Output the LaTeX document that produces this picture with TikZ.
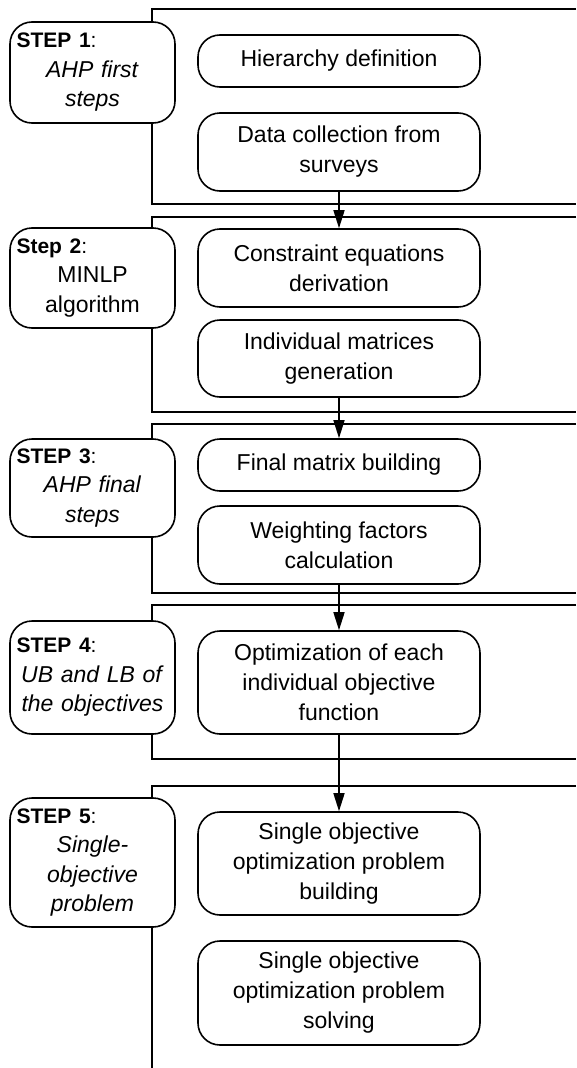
\documentclass[tikz,border=0pt]{standalone}
\usepackage{fontspec}
\setmainfont{Liberation Sans}
\usetikzlibrary{arrows.meta}
\tikzset{
  frame/.style={line width=2.2pt},
  procbox/.style={draw, line width=1.6pt, rounded corners=22pt, align=center,
    font=\fontsize{23}{30}\selectfont, inner sep=0pt},
  labelbox/.style={draw, fill=white, line width=1.6pt, rounded corners=22pt,
    align=center, text width=152pt, inner xsep=6.5pt, inner ysep=0pt,
    font=\fontsize{23}{29.5}\selectfont},
  flow/.style={line width=1.6pt, -{Triangle[length=18pt,width=11pt]}}
}
\newcommand{\steptitle}[1]{\makebox[152pt][l]{\fontsize{21}{29.5}\selectfont #1}}
\begin{document}
\begin{tikzpicture}[x=1pt,y=-1pt]
\useasboundingbox (0,0) rectangle (576,1068);
% frames
\draw[frame] (576,9) -- (152,9) -- (152,204) -- (576,204);
\draw[frame] (576,217) -- (152,217) -- (152,412) -- (576,412);
\draw[frame] (576,424) -- (152,424) -- (152,593) -- (576,593);
\draw[frame] (576,605) -- (152,605) -- (152,759) -- (576,759);
\draw[frame] (576,786) -- (152,786) -- (152,1068);
% process boxes
\node[procbox, minimum width=282pt, minimum height=52pt] (b1a) at (339,61) {Hierarchy definition};
\node[procbox, minimum width=282pt, minimum height=78pt] (b1b) at (339,152) {Data collection from\\surveys};
\node[procbox, minimum width=282pt, minimum height=78pt] (b2a) at (339,268) {Constraint equations\\derivation};
\node[procbox, minimum width=282pt, minimum height=77pt] (b2b) at (339,358.5) {Individual matrices\\generation};
\node[procbox, minimum width=282pt, minimum height=52pt] (b3a) at (339,465) {Final matrix building};
\node[procbox, minimum width=282pt, minimum height=78pt] (b3b) at (339,545) {Weighting factors\\calculation};
\node[procbox, minimum width=282pt, minimum height=103pt] (b4) at (339,682.5) {Optimization of each\\individual objective\\function};
\node[procbox, minimum width=282pt, minimum height=103pt] (b5a) at (339,863.5) {Single objective\\optimization problem\\building};
\node[procbox, minimum width=282pt, minimum height=104pt] (b5b) at (339,993) {Single objective\\optimization problem\\solving};
% label boxes
\node[labelbox, minimum height=101pt] (l1) at (92.5,72.5) {\steptitle{\textbf{STEP 1}:}\\\textit{AHP first}\\\textit{steps}};
\node[labelbox, minimum height=100pt] (l2) at (92.5,278) {\steptitle{\textbf{Step 2}:}\\MINLP\\algorithm};
\node[labelbox, minimum height=98pt] (l3) at (92.5,488) {\steptitle{\textbf{STEP 3}:}\\\textit{AHP final}\\\textit{steps}};
\node[labelbox, minimum height=113pt] (l4) at (92.5,677.5) {\steptitle{\textbf{STEP 4}:}\\\textit{UB and LB of}\\\textit{the objectives}};
\node[labelbox, minimum height=129pt] (l5) at (92.5,862.5) {\steptitle{\textbf{STEP 5}:}\\\textit{Single-}\\\textit{objective}\\\textit{problem}};
% connectors
\draw[flow] (b1b) -- (b2a);
\draw[flow] (b2b) -- (b3a);
\draw[flow] (b3b) -- (b4);
\draw[flow] (b4) -- (b5a);
\end{tikzpicture}
\end{document}
